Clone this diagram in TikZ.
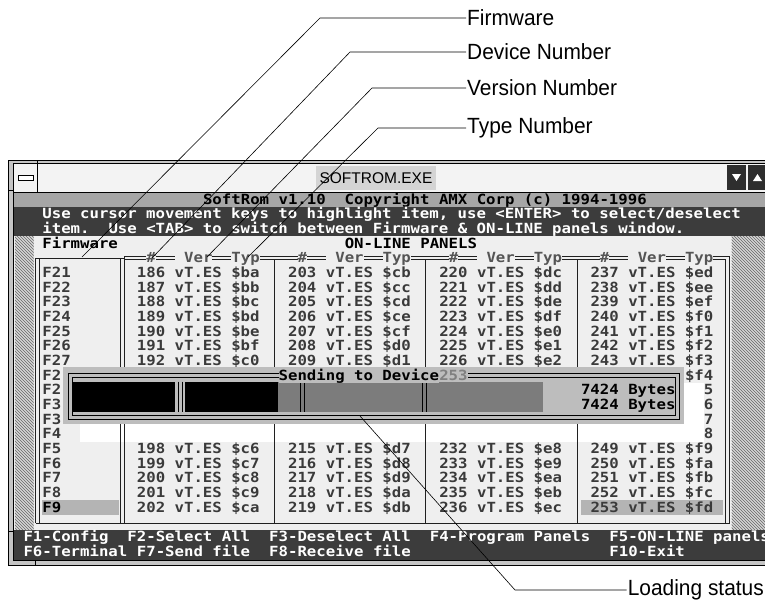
\documentclass[tikz,border=0pt]{standalone}
\usepackage{fontspec}
\setmainfont{Liberation Sans}
\newfontfamily\dosfont[FakeStretch=1.12]{DejaVu Sans Mono}
\newfontfamily\lblfont[FakeStretch=0.95]{Liberation Sans}
\usetikzlibrary{patterns}
\definecolor{mainbg}{HTML}{EFEFEF}
\definecolor{framegray}{HTML}{C4C4C4}
\definecolor{titlebg}{HTML}{F3F3F3}
\definecolor{titledither}{HTML}{D4D4D4}
\definecolor{hdrgray}{HTML}{A6A6A6}
\definecolor{darkbar}{HTML}{3C3C3C}
\definecolor{dostext}{HTML}{3A3A3A}
\definecolor{hdrtext}{HTML}{555555}
\definecolor{hilite}{HTML}{B4B4B4}
\definecolor{hatchbg}{HTML}{D6D6D6}
\definecolor{dlglight}{HTML}{BDBDBD}
\definecolor{dlgdark}{HTML}{7C7C7C}
\definecolor{btn}{HTML}{2E2E2E}
\definecolor{lineclr}{HTML}{202020}
\newcommand\dt[4][black]{\node[dos=#1] (n#2x#3) at ({23.5+9.45*(#2)},{204+14.68*(#3)}) {#4};}
\tikzset{
  dos/.style={font=\dosfont\bfseries\fontsize{14}{14}\selectfont, inner sep=0pt, outer sep=0pt, anchor=base west, text=#1},
  dos/.default=black,
  lbl/.style={font=\lblfont\fontsize{22}{22}\selectfont, inner sep=1pt},
  leader/.style={draw=black, line width=0.6pt},
  boxline/.style={draw=lineclr, line width=1pt},
  hatch/.style={fill=hatchbg, postaction={pattern=north west lines, pattern color=black!60}},
}
\begin{document}
\begin{tikzpicture}[x=1pt,y=-1pt]
\useasboundingbox (0,0) rectangle (765,606);
\begin{scope}
\clip (0,0) rectangle (765,606);
% ---------- window frame ----------
\fill[framegray] (8,160) rectangle (780,566);
\draw[black, line width=1pt] (8.5,160.5) rectangle (780,565.5);
\draw[black, line width=0.8pt] (13.5,163.5) rectangle (780,560);
\draw[black, line width=0.6pt] (37,160.5) -- (37,163.5) (8.5,190) -- (13.5,190) (8.5,531) -- (13.5,531) (35,560) -- (35,565.5);
% ---------- title bar ----------
\fill[titlebg] (14,164) rectangle (780,192);
\fill[titledither] (316,166) rectangle (436,190);
\draw[black, line width=0.8pt] (14,192) -- (780,192);
\fill[titlebg] (14,164) rectangle (37,192);
\draw[black, line width=0.8pt] (37,164) -- (37,192);
\node[draw=black, fill=white, line width=0.8pt, minimum width=15pt, minimum height=5pt, inner sep=0pt] (sysicon) at (25.5,177.5) {};
\node[font=\fontsize{15.5}{15.5}\selectfont, inner sep=0pt] (title) at (376,178) {SOFTROM.EXE};
\fill[btn] (727,165) rectangle (746,190);
\fill[btn] (748,165) rectangle (768,190);
\fill[white] (732,174) -- (741,174) -- (736.5,181) -- cycle;
\fill[white] (753,181) -- (762,181) -- (757.5,174) -- cycle;
% ---------- screen bands ----------
\fill[hdrgray] (14,192.5) rectangle (780,206.7);
\fill[darkbar] (14,206.7) rectangle (780,236);
\fill[mainbg] (14,236) rectangle (780,529.6);
\fill[hatch] (15,236) rectangle (33.5,529.6);
\fill[hatch] (731.5,236) rectangle (780,529.6);
\fill[darkbar] (14,529.6) rectangle (780,559.5);
% highlights and redraw gaps
\fill[hilite] (42.4,500.3) rectangle (118.5,515);
\fill[hilite] (581,500.3) rectangle (722.8,515);
\fill[white] (80,424) rectangle (703.9,441.6);
\fill[white] (684,382.8) rectangle (703.9,441.6);
% ---------- boxes ----------
\draw[boxline] (35.7,258.1) -- (124.7,258.1);
\draw[boxline] (35.7,258.1) -- (35.7,523) (39.7,258.1) -- (39.7,523);
\draw[boxline] (120.7,258.1) -- (120.7,523) (124.7,256.4) -- (124.7,523);
\draw[boxline] (124.7,256.4) -- (729.5,256.4) (124.7,259.8) -- (725.5,259.8);
\draw[boxline] (274.7,259.8) -- (274.7,523) (425.9,259.8) -- (425.9,523) (577.1,259.8) -- (577.1,523);
\draw[boxline] (725.5,259.8) -- (725.5,523) (729.5,256.4) -- (729.5,523);
\draw[boxline] (35.7,523) -- (729.5,523);
% ---------- text rows ----------
\dt{19}{0}{SoftRom v1.10\ \ Copyright AMX Corp (c) 1994-1996}
\dt[white]{2}{1}{Use cursor movement keys to highlight item, use <ENTER> to select/deselect}
\dt[white]{2}{2}{item.}
\dt[white]{9}{2}{Use <TAB> to switch between Firmware \& ON-LINE panels window.}
\dt{2}{3}{Firmware}
\dt{34}{3}{ON-LINE PANELS}
\foreach \c in {12,28,44,60} {
  \node[dos=hdrtext, fill=mainbg] (hash\c) at ({23.5+9.45*(\c+1)},{204+14.68*4}) {\#};
  \node[dos=hdrtext, fill=mainbg] (ver\c) at ({23.5+9.45*(\c+4)},{204+14.68*4}) {\ Ver\ };
  \node[dos=hdrtext, fill=mainbg] (typ\c) at ({23.5+9.45*(\c+10)},{204+14.68*4}) {Typ};
}
\foreach \t/\r in {F21/5,F22/6,F23/7,F24/8,F25/9,F26/10,F27/11,F2/12,F2/13,F3/14,F3/15,F4/16,F5/17,F6/18,F7/19,F8/20} {
  \node[dos=dostext] (fw\r) at ({23.5+9.45*2},{204+14.68*\r}) {\t};
}
\dt{2}{21}{F9}
\foreach \c [count=\k from 0] in {12,28,44,60} {
  \foreach \r in {5,6,7,8,9,10,11,17,18,19,20,21} {
    \pgfmathtruncatemacro\n{186+17*\k+\r-5}
    \pgfmathparse{hex(\n)}
    \edef\h{\pgfmathresult}
    \node[dos=dostext] (d\n) at ({23.5+9.45*\c},{204+14.68*\r}) {\n\ vT.ES \$\h};
  }
}
\dt[dostext]{70}{12}{\$f4}
\dt[dostext]{72}{13}{5}
\dt[dostext]{72}{14}{6}
\dt[dostext]{72}{15}{7}
\dt[dostext]{72}{16}{8}
% ---------- bottom bar ----------
\dt[white]{0}{23}{F1-Config}
\dt[white]{11}{23}{F2-Select All}
\dt[white]{26}{23}{F3-Deselect All}
\dt[white]{43}{23}{F4-Program Panels}
\dt[white]{62}{23}{F5-ON-LINE panels}
\dt[white]{0}{24}{F6-Terminal}
\dt[white]{12}{24}{F7-Send file}
\dt[white]{26}{24}{F8-Receive file}
\dt[white]{62}{24}{F10-Exit}
% ---------- dialog ----------
\fill[dlglight] (63,367) rectangle (684,424);
\draw[black, line width=0.9pt] (68.5,373) rectangle (679.5,419);
\draw[black, line width=0.9pt] (72.5,377) rectangle (675.5,415);
\fill[black] (72.5,381.7) rectangle (175,411.7);
\fill[black] (185,381.7) rectangle (278.3,411.7);
\fill[dlgdark] (278.3,381.7) rectangle (543,411.7);
\draw[black, line width=0.9pt] (178.5,381.7) -- (178.5,411.7) (182.5,381.7) -- (182.5,411.7);
\draw[black, line width=0.9pt] (300.5,381.7) -- (300.5,411.7) (304.5,381.7) -- (304.5,411.7);
\draw[black, line width=0.9pt] (422.5,381.7) -- (422.5,411.7) (426.5,381.7) -- (426.5,411.7);
\node[dos, fill=dlglight] (dlgtitle) at ({23.5+9.45*27},{204+14.68*12}) {Sending to Device};
\node[dos=black!50, fill=dlglight] (dlgnum) at ({23.5+9.45*44},{204+14.68*12}) {253};
\dt{59}{13}{7424 Bytes}
\dt{59}{14}{7424 Bytes}
% ---------- callouts ----------
\node[lbl, anchor=west] (lfw) at (466,18) {Firmware};
\node[lbl, anchor=west] (ldev) at (466,52) {Device Number};
\node[lbl, anchor=west] (lver) at (466,88) {Version Number};
\node[lbl, anchor=west] (ltyp) at (466,128) {Type Number};
\node[lbl, anchor=east] (lload) at (765,590) {Loading status};
\coordinate (efw) at (320,18);
\coordinate (edev) at (350,52);
\coordinate (ever) at (372,88);
\coordinate (etyp) at (378,128);
\coordinate (eload) at (515,590);
\coordinate (pfw) at (82,257);
\coordinate (pdev) at (152,258);
\coordinate (pver) at (207,257);
\coordinate (ptyp) at (248,257);
\coordinate (pload) at (360,416);
\draw[leader] (lfw.west) -- (efw) -- (pfw);
\draw[leader] (ldev.west) -- (edev) -- (pdev);
\draw[leader] (lver.west) -- (ever) -- (pver);
\draw[leader] (ltyp.west) -- (etyp) -- (ptyp);
\draw[leader] (lload.west) -- (eload) -- (pload);
\end{scope}
\end{tikzpicture}
\end{document}
